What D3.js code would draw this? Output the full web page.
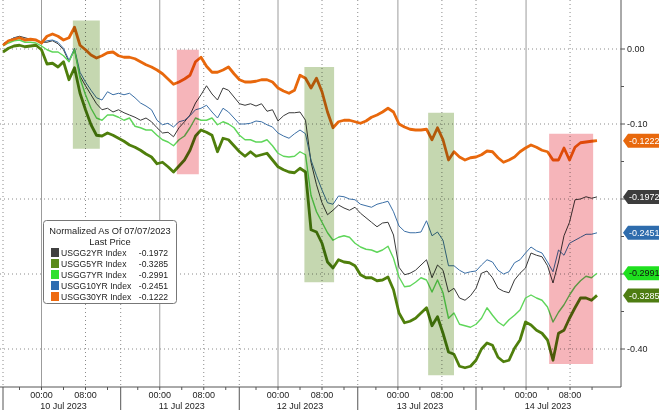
<!DOCTYPE html>
<html><head><meta charset="utf-8">
<script src="https://cdn.jsdelivr.net/npm/d3@7"></script>
<style>
html,body{margin:0;padding:0;background:#fff;}
svg{display:block;font-family:"Liberation Sans",Arial,sans-serif;}
</style></head><body>
<svg id="chart" width="660" height="410"></svg>
<script>
// ---------- data ----------
const seriesNames = ["USGG2YR Index","USGG5YR Index","USGG7YR Index","USGG10YR Index","USGG30YR Index"];
const lastPrices = [-0.1972,-0.3285,-0.2991,-0.2451,-0.1222];
const legendTitle = ["Normalized As Of 07/07/2023","Last Price"];

// one sample per trading hour since the start of the window
const sampleHours = d3.range(109);

const usgg2yr = [0.007,0.011,0.015,0.017,0.015,0.013,0.012,0.009,0.009,0.011,
 0.007,-0.001,-0.017,-0.001,-0.036,-0.049,-0.061,-0.073,-0.081,-0.079,
 -0.084,-0.081,-0.085,-0.088,-0.091,-0.095,-0.092,-0.097,-0.105,-0.112,
 -0.111,-0.117,-0.105,-0.097,-0.088,-0.072,-0.061,-0.049,-0.060,-0.068,
 -0.052,-0.055,-0.064,-0.073,-0.075,-0.073,-0.076,-0.073,-0.083,-0.081,
 -0.096,-0.089,-0.085,-0.085,-0.084,-0.095,-0.151,-0.181,-0.205,-0.221,
 -0.215,-0.208,-0.212,-0.215,-0.211,-0.219,-0.225,-0.231,-0.237,-0.232,
 -0.231,-0.248,-0.291,-0.301,-0.299,-0.295,-0.288,-0.281,-0.305,-0.288,
 -0.295,-0.324,-0.319,-0.332,-0.335,-0.329,-0.319,-0.299,-0.296,-0.305,
 -0.319,-0.323,-0.325,-0.308,-0.299,-0.292,-0.272,-0.275,-0.277,-0.289,
 -0.312,-0.284,-0.249,-0.231,-0.201,-0.200,-0.197,-0.199,-0.1972];

const usgg5yr = [-0.004,0.001,0.004,0.005,0.003,0.004,0.005,-0.001,-0.020,-0.019,
 -0.024,-0.017,-0.041,-0.025,-0.059,-0.081,-0.101,-0.115,-0.116,-0.112,
 -0.115,-0.119,-0.123,-0.128,-0.131,-0.135,-0.140,-0.144,-0.153,-0.151,
 -0.157,-0.164,-0.156,-0.148,-0.135,-0.116,-0.108,-0.111,-0.115,-0.137,
 -0.119,-0.121,-0.129,-0.137,-0.143,-0.137,-0.143,-0.141,-0.139,-0.148,
 -0.157,-0.161,-0.164,-0.165,-0.159,-0.164,-0.241,-0.244,-0.259,-0.284,
 -0.292,-0.281,-0.284,-0.285,-0.289,-0.301,-0.305,-0.305,-0.309,-0.308,
 -0.304,-0.321,-0.352,-0.365,-0.363,-0.359,-0.352,-0.345,-0.369,-0.357,
 -0.379,-0.404,-0.407,-0.423,-0.425,-0.423,-0.415,-0.400,-0.392,-0.395,
 -0.411,-0.417,-0.415,-0.399,-0.388,-0.364,-0.368,-0.375,-0.379,-0.388,
 -0.415,-0.379,-0.375,-0.359,-0.345,-0.332,-0.332,-0.335,-0.3285];

const usgg7yr = [0.004,0.008,0.011,0.012,0.009,0.009,0.008,0.004,-0.001,-0.004,
 -0.004,-0.009,-0.017,-0.001,-0.039,-0.061,-0.079,-0.092,-0.095,-0.088,
 -0.088,-0.091,-0.095,-0.092,-0.103,-0.105,-0.108,-0.108,-0.115,-0.121,
 -0.124,-0.129,-0.121,-0.116,-0.105,-0.092,-0.095,-0.095,-0.092,-0.101,
 -0.097,-0.100,-0.105,-0.115,-0.121,-0.121,-0.124,-0.124,-0.121,-0.129,
 -0.139,-0.143,-0.144,-0.143,-0.137,-0.141,-0.195,-0.217,-0.231,-0.245,
 -0.255,-0.251,-0.249,-0.251,-0.259,-0.264,-0.267,-0.268,-0.271,-0.268,
 -0.263,-0.279,-0.304,-0.317,-0.316,-0.311,-0.305,-0.308,-0.324,-0.308,
 -0.325,-0.359,-0.352,-0.367,-0.369,-0.371,-0.367,-0.359,-0.345,-0.355,
 -0.364,-0.369,-0.361,-0.355,-0.348,-0.332,-0.328,-0.332,-0.335,-0.344,
 -0.364,-0.351,-0.341,-0.328,-0.317,-0.309,-0.303,-0.305,-0.2991];

const usgg10yr = [0.007,0.011,0.015,0.016,0.013,0.013,0.012,0.008,0.011,0.012,
 0.009,0.001,-0.015,0.001,-0.031,-0.044,-0.055,-0.065,-0.068,-0.057,
 -0.061,-0.059,-0.061,-0.059,-0.065,-0.072,-0.076,-0.081,-0.095,-0.101,
 -0.099,-0.104,-0.097,-0.095,-0.089,-0.081,-0.079,-0.075,-0.084,-0.092,
 -0.079,-0.084,-0.092,-0.100,-0.100,-0.099,-0.096,-0.097,-0.101,-0.104,
 -0.112,-0.116,-0.119,-0.113,-0.108,-0.113,-0.148,-0.169,-0.188,-0.205,
 -0.207,-0.196,-0.197,-0.200,-0.201,-0.207,-0.209,-0.211,-0.207,-0.205,
 -0.203,-0.217,-0.236,-0.243,-0.245,-0.245,-0.244,-0.229,-0.249,-0.244,
 -0.255,-0.289,-0.289,-0.295,-0.299,-0.297,-0.296,-0.288,-0.281,-0.284,
 -0.295,-0.300,-0.297,-0.285,-0.281,-0.272,-0.264,-0.269,-0.272,-0.284,
 -0.297,-0.268,-0.275,-0.259,-0.255,-0.251,-0.247,-0.247,-0.2451];

const usgg30yr = [0.005,0.011,0.013,0.015,0.012,0.013,0.012,0.008,0.017,0.020,
 0.017,0.012,0.015,0.029,0.005,-0.001,-0.008,-0.012,-0.009,-0.005,
 -0.004,-0.009,-0.011,-0.011,-0.013,-0.017,-0.021,-0.024,-0.028,-0.033,
 -0.040,-0.047,-0.044,-0.040,-0.035,-0.017,-0.011,-0.023,-0.031,-0.031,
 -0.028,-0.024,-0.033,-0.041,-0.044,-0.044,-0.043,-0.041,-0.041,-0.044,
 -0.052,-0.056,-0.059,-0.055,-0.035,-0.039,-0.052,-0.039,-0.057,-0.084,
 -0.105,-0.097,-0.095,-0.095,-0.097,-0.099,-0.096,-0.091,-0.088,-0.084,
 -0.079,-0.084,-0.100,-0.104,-0.107,-0.108,-0.108,-0.107,-0.121,-0.105,
 -0.121,-0.148,-0.137,-0.144,-0.148,-0.145,-0.144,-0.141,-0.136,-0.137,
 -0.145,-0.151,-0.148,-0.144,-0.137,-0.132,-0.128,-0.131,-0.135,-0.137,
 -0.148,-0.148,-0.132,-0.148,-0.131,-0.125,-0.124,-0.123,-0.1222];

// time axis (trading hours since start)
const dayStartHours = [0, 21.4, 42.96, 64.5, 86];
const midnightHours = [7, 28.5, 50, 71.8, 95.1];
const eightHours = [15, 36.5, 58, 79.8, 103.1];
const minorTickHours = [3,7,11,15,19, 24.5,28.5,32.5,36.5,40.5, 46,50,54,58,62,
  67.8,71.8,75.8,79.8,83.8, 87.1,91.1,95.1,99.1,103.1,107.1];
const dateLabels = ["10 Jul 2023","11 Jul 2023","12 Jul 2023","13 Jul 2023","14 Jul 2023"];
const timeLabels = ["00:00","08:00"];

// value axis
const yTickValues = [0,-0.1,-0.2,-0.3,-0.4];
const yMinorTickValues = [-0.05,-0.15,-0.25,-0.35];

// highlighted windows
const hlStart  = [12.7, 31.6, 54.8, 77.3, 99.3];
const hlEnd    = [17.6, 35.6, 60.2, 82.0, 107.3];
const hlTop    = [0.038, -0.001, -0.024, -0.085, -0.113];
const hlBottom = [-0.133, -0.167, -0.311, -0.435, -0.420];
const hlKind   = ["green","pink","green","green","pink"];

// ---------- drawing ----------
const svg = d3.select("#chart");
const W = 660, H = 410;
const axisX = 621, axisY = 387;

const x = d3.scaleLinear().domain([0, 108]).range([3, 597]);
const y = d3.scaleLinear().domain([0, -0.4]).range([49, 349]);

const seriesData = [usgg2yr, usgg5yr, usgg7yr, usgg10yr, usgg30yr];
const lineColors = ["#3a3a3a","#4f7f0c","#5fd65a","#3b6fa6","#e8680c"];
const swatchColors = ["#404040","#5a8a1a","#2fe02f","#2e6cb0","#ee6a10"];
const tagColors = ["#3d3d3d","#4e7d12","#1fe01f","#2e6cad","#e8680c"];
const tagText = ["#fff","#fff","#111","#fff","#fff"];
const lineWidths = [1, 2.8, 1.4, 1, 2.8];
const drawOrder = [0,3,2,1,4];

const grid = svg.append("g");
grid.selectAll("line.h").data(yTickValues).join("line")
  .attr("x1", 0).attr("x2", axisX)
  .attr("y1", d => y(d)).attr("y2", d => y(d))
  .attr("stroke", "#8a8a8a").attr("stroke-dasharray", "1,3");
grid.selectAll("line.vd").data(dayStartHours.concat(eightHours)).join("line")
  .attr("x1", d => x(d)).attr("x2", d => x(d))
  .attr("y1", 0).attr("y2", axisY)
  .attr("stroke", "#8a8a8a").attr("stroke-dasharray", "1,3");
grid.selectAll("line.vs").data(midnightHours).join("line")
  .attr("x1", d => x(d)).attr("x2", d => x(d))
  .attr("y1", 0).attr("y2", axisY)
  .attr("stroke", "#9c9c9c").attr("stroke-width", 1);

// lines
const lineGen = d3.line().x((d,i) => x(sampleHours[i])).y(d => y(d));
const linesG = svg.append("g");
drawOrder.forEach(k => {
  linesG.append("path").datum(seriesData[k])
    .attr("d", lineGen)
    .attr("fill", "none")
    .attr("stroke", lineColors[k])
    .attr("stroke-width", lineWidths[k])
    .attr("stroke-linejoin", "round");
});

// highlight windows (multiply overlay)
const hlFill = {green: "#c5d7b0", pink: "#f6b5ba"};
svg.append("g").selectAll("rect").data(hlStart).join("rect")
  .attr("x", (d,i) => x(d))
  .attr("width", (d,i) => x(hlEnd[i]) - x(d))
  .attr("y", (d,i) => y(hlTop[i]))
  .attr("height", (d,i) => y(hlBottom[i]) - y(hlTop[i]))
  .attr("fill", (d,i) => hlFill[hlKind[i]])
  .style("mix-blend-mode", "multiply");

// x axis
const xa = svg.append("g");
xa.append("line").attr("x1", 0).attr("x2", axisX).attr("y1", axisY).attr("y2", axisY)
  .attr("stroke", "#555");
xa.selectAll("line.mt").data(minorTickHours).join("line")
  .attr("x1", d => x(d)).attr("x2", d => x(d))
  .attr("y1", axisY).attr("y2", axisY + 3).attr("stroke", "#555");
xa.selectAll("line.ds").data(dayStartHours).join("line")
  .attr("x1", d => x(d)).attr("x2", d => x(d))
  .attr("y1", axisY).attr("y2", H).attr("stroke", "#555");
xa.selectAll("text.t0").data(midnightHours).join("text")
  .attr("x", d => x(d)).attr("y", 398).attr("text-anchor", "middle")
  .attr("font-size", 9).attr("fill", "#222").text(timeLabels[0]);
xa.selectAll("text.t8").data(eightHours).join("text")
  .attr("x", d => x(d)).attr("y", 398).attr("text-anchor", "middle")
  .attr("font-size", 9).attr("fill", "#222").text(timeLabels[1]);
xa.selectAll("text.dt").data(dateLabels).join("text")
  .attr("x", (d,i) => (x(midnightHours[i]) + x(eightHours[i])) / 2)
  .attr("y", 408.5).attr("text-anchor", "middle")
  .attr("font-size", 9).attr("fill", "#222").text(d => d);

// right axis
const ya = svg.append("g");
ya.append("line").attr("x1", axisX).attr("x2", axisX).attr("y1", 0).attr("y2", axisY)
  .attr("stroke", "#555");
ya.selectAll("line.mj").data(yTickValues).join("line")
  .attr("x1", axisX).attr("x2", axisX + 4)
  .attr("y1", d => y(d)).attr("y2", d => y(d)).attr("stroke", "#555");
ya.selectAll("line.mn").data(yMinorTickValues).join("line")
  .attr("x1", axisX).attr("x2", axisX + 3)
  .attr("y1", d => y(d)).attr("y2", d => y(d)).attr("stroke", "#555");
const tagYs = lastPrices.map(v => y(v));
ya.selectAll("text.yl").data(yTickValues.filter(v => tagYs.every(t => Math.abs(t - y(v)) > 9)))
  .join("text")
  .attr("x", axisX + 6).attr("y", d => y(d)).attr("dy", "0.35em")
  .attr("font-size", 9).attr("fill", "#222").text(d => d.toFixed(2));

// last-price tags
const tags = svg.append("g");
lastPrices.forEach((v, i) => {
  const ty = y(v);
  const g = tags.append("g");
  g.append("path")
    .attr("d", `M${axisX+2},${ty} L${axisX+7},${ty-7} L${W-1},${ty-7} L${W-1},${ty+7} L${axisX+7},${ty+7} Z`)
    .attr("fill", tagColors[i]);
  g.append("text").attr("x", axisX + 8).attr("y", ty).attr("dy", "0.35em")
    .attr("font-size", 9).attr("fill", tagText[i]).text(v.toFixed(4));
});

// legend
const lg = svg.append("g");
lg.append("rect").attr("x", 43.5).attr("y", 220.5).attr("width", 133).attr("height", 83)
  .attr("rx", 3).attr("fill", "#fff").attr("stroke", "#777");
lg.selectAll("text.tt").data(legendTitle).join("text")
  .attr("x", 110).attr("y", (d,i) => 231 + i * 11).attr("dy", "0.35em")
  .attr("text-anchor", "middle").attr("font-size", 9.3).attr("fill", "#222").text(d => d);
const rows = lg.selectAll("g.row").data(seriesNames).join("g")
  .attr("transform", (d,i) => `translate(0,${252.5 + i * 11})`);
rows.append("rect").attr("x", 51).attr("y", -4.5).attr("width", 8).attr("height", 9)
  .attr("fill", (d,i) => swatchColors[i]);
rows.append("text").attr("x", 61).attr("dy", "0.35em").attr("font-size", 8.6)
  .attr("fill", "#222").text(d => d);
rows.append("text").attr("x", 168).attr("dy", "0.35em").attr("font-size", 8.6)
  .attr("text-anchor", "end").attr("fill", "#222").text((d,i) => lastPrices[i].toFixed(4));
</script>
</body></html>
